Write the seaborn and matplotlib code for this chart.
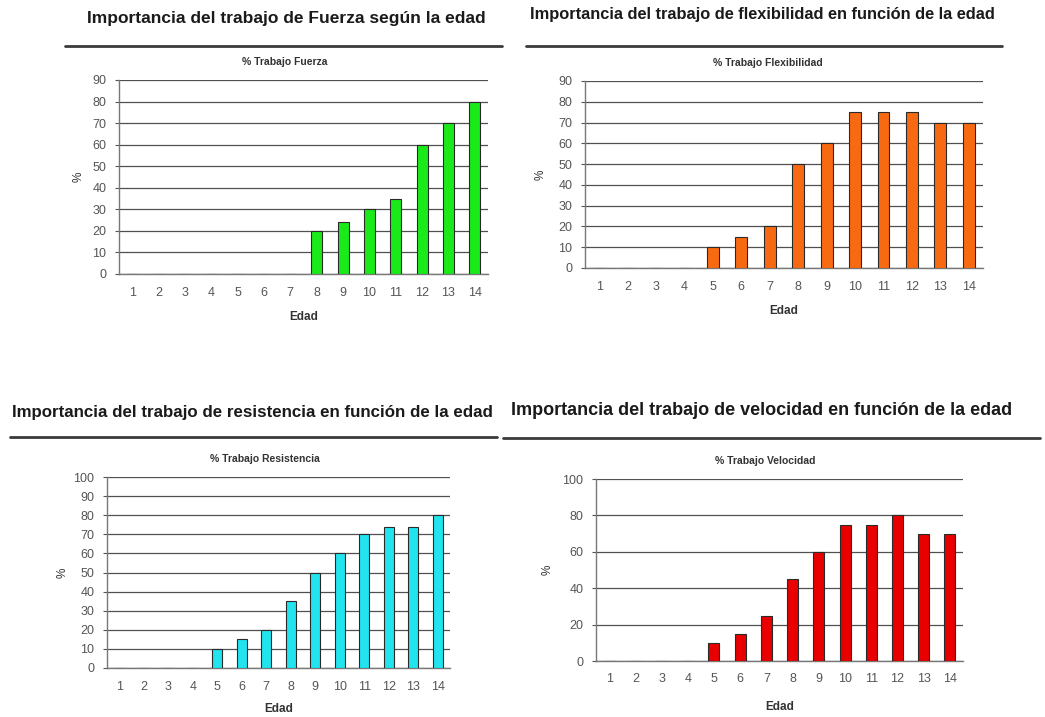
import matplotlib
matplotlib.use("Agg")
import matplotlib.pyplot as plt
import seaborn as sns
import pandas as pd
from matplotlib.lines import Line2D
from matplotlib.ticker import MultipleLocator, FixedLocator

# Age groups and share of each kind of training (%)
edades = [str(e) for e in range(1, 15)]
fuerza = [0, 0, 0, 0, 0, 0, 0, 20, 24, 30, 35, 60, 70, 80]
flexibilidad = [0, 0, 0, 0, 10, 15, 20, 50, 60, 75, 75, 75, 70, 70]
resistencia = [0, 0, 0, 0, 10, 15, 20, 35, 50, 60, 70, 74, 74, 80]
velocidad = [0, 0, 0, 0, 10, 15, 25, 45, 60, 75, 75, 80, 70, 70]

titulos = [
    "Importancia del trabajo de Fuerza según la edad",
    "Importancia del trabajo de flexibilidad en función de la edad",
    "Importancia del trabajo de resistencia en función de la edad",
    "Importancia del trabajo de velocidad en función de la edad",
]
subtitulos = ["% Trabajo Fuerza", "% Trabajo Flexibilidad",
              "% Trabajo Resistencia", "% Trabajo Velocidad"]

sns.set_style("white")
plt.rcParams["font.family"] = ["Liberation Sans", "DejaVu Sans"]

W, H = 1045, 717
fig = plt.figure(figsize=(W / 100, H / 100), dpi=100)
fig.patch.set_facecolor("white")


def px_axes(l, t, r, b):
    return fig.add_axes([l / W, 1 - b / H, (r - l) / W, (b - t) / H])


def rule(x0, x1, y):
    fig.add_artist(Line2D([x0 / W, x1 / W], [1 - y / H, 1 - y / H],
                          transform=fig.transFigure, color="#3a3a3a", lw=2.0))


paneles = [
    # values, color, axes box (l, t, r, b), ymax, ystep,
    # title (x, y, size), rule (x0, x1, y), xlabel offset, ylabel offset
    (fuerza, "#1aea1a", (119, 80, 488, 274), 90, 10, (286, 18, 12.5), (65, 502, 46), 37, 34),
    (flexibilidad, "#f86a12", (585, 81, 983, 268), 90, 10, (762, 15, 11.8), (526, 1002, 46), 37, 38),
    (resistencia, "#22e4ee", (107, 477, 450, 668), 100, 10, (252, 413, 12.2), (10, 497, 437), 35, 38),
    (velocidad, "#e80000", (596, 479, 963, 661), 100, 20, (762, 410, 13.0), (503, 1040, 438), 40, 42),
]

for i, (vals, color, box, ymax, ystep, tpos, rpos, xoff, yoff) in enumerate(paneles):
    ax = px_axes(*box)
    df = pd.DataFrame({"Edad": edades, "pct": vals})
    sns.barplot(data=df, x="Edad", y="pct", color=color, width=0.42,
                edgecolor="#2a2a2a", linewidth=0.8, saturation=1, ax=ax, zorder=3)
    ax.set_xlim(-0.5, 13.5)
    ax.set_ylim(0, ymax)
    ax.yaxis.set_major_locator(MultipleLocator(ystep))
    ax.xaxis.set_minor_locator(FixedLocator([k - 0.5 for k in range(15)]))
    ax.grid(axis="y", color="#505050", lw=0.9, zorder=0)
    ax.set_axisbelow(True)
    for side in ("top", "right"):
        ax.spines[side].set_visible(False)
    for side in ("left", "bottom"):
        ax.spines[side].set_color("#777777")
        ax.spines[side].set_linewidth(1.0)
    ax.tick_params(axis="x", which="major", length=0, pad=9, labelsize=9,
                   labelcolor="#555555")
    ax.tick_params(axis="x", which="minor", length=3, direction="out",
                   color="#555555", width=0.8)
    ax.tick_params(axis="y", length=3, direction="out", color="#555555",
                   width=0.8, pad=6, labelsize=9, labelcolor="#555555", left=True)
    ax.set_xlabel("Edad", fontsize=8.5, fontweight="bold", color="#333333")
    ax.set_ylabel("%", fontsize=8.5, color="#333333")
    l, t, r, b = box
    ax.xaxis.set_label_coords(0.5, -xoff / (b - t))
    ax.yaxis.set_label_coords(-yoff / (r - l), 0.5)
    ax.text(0.45 if i == 0 else 0.46, 1 + 18 / (b - t), subtitulos[i],
            transform=ax.transAxes, ha="center", va="center",
            fontsize=7.5, fontweight="bold", color="#333333")

    tx, ty, ts = tpos
    fig.text(tx / W, 1 - ty / H, titulos[i], ha="center", va="center",
             fontsize=ts, fontweight="bold", color="#1a1a1a")
    rule(*rpos)

fig.savefig("out.png", dpi=100, facecolor="white")
